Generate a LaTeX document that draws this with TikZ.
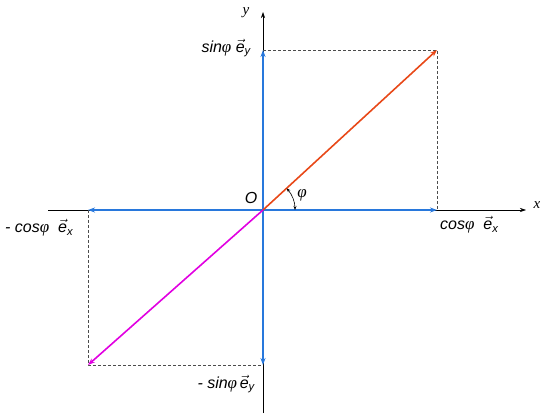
\documentclass[tikz,border=0pt]{standalone}
\usepackage{amsmath}
\usepackage{fontspec}
\setmainfont{Liberation Sans}
\newfontfamily\serifit{Liberation Serif}
\usetikzlibrary{arrows.meta}
\definecolor{vblue}{RGB}{40,120,220}
\definecolor{vred}{RGB}{232,72,24}
\definecolor{vmag}{RGB}{225,0,225}
\newcommand{\ph}{{\serifit\itshape\fontsize{17}{17}\selectfont φ}}
\newcommand{\evec}[1]{$\vec{\text{\itshape e}}_{\text{\itshape #1}}$}
\tikzset{
  axis/.style={black, line width=0.6pt, -{Stealth[length=6pt,width=4pt]}},
  vec/.style={line width=1.6pt, -{Stealth[length=7pt,width=5pt]}},
  proj/.style={black!70, line width=0.5pt, densely dashed},
  lab/.style={font=\fontsize{16}{18}\selectfont\itshape, inner sep=1pt},
  axlab/.style={font=\fontsize{15}{17}\selectfont\serifit\itshape, inner sep=1pt}
}
\begin{document}
\begin{tikzpicture}[x=1pt,y=-1pt]
\useasboundingbox (0,0) rectangle (541,414);
\coordinate (O) at (263,210);
\coordinate (xl) at (48,210);
\coordinate (xr) at (526,210);
\coordinate (yb) at (263,413);
\coordinate (yt) at (263,12);
\coordinate (ex) at (437,210);
\coordinate (mex) at (88,210);
\coordinate (ey) at (263,50);
\coordinate (mey) at (263,365);
\coordinate (P) at (437,50);
\coordinate (Q) at (88,365);
% axes
\draw[axis] (xl) -- (xr);
\draw[axis] (yb) -- (yt);
% dashed projections
\draw[proj] (ey) -- (P) -- (ex);
\draw[proj] (mex) -- (Q) -- (mey);
% vectors
\draw[vec, vblue] (O) -- (ex);
\draw[vec, vblue] (O) -- (mex);
\draw[vec, vblue] (O) -- (ey);
\draw[vec, vblue] (O) -- (mey);
\draw[vec, vred] (O) -- (P);
\draw[vec, vmag] (O) -- (Q);
% angle
\draw[black, line width=0.6pt, {Stealth[length=4pt,width=3pt]}-{Stealth[length=4pt,width=3pt]}] ([shift={(0:32)}]O) arc[start angle=0, end angle=-42.6, radius=32];
\node[inner sep=1pt] (phi) at (302,195) {\ph};
% labels
\node[axlab] (xlab) at (537,205) {x};
\node[axlab] (ylab) at (246,13) {y};
\node[lab] (Olab) at (251,198) {O};
\node[lab, anchor=east] (eylab) at (252,48) {sin\ph\ \evec{y}};
\node[lab, anchor=west] (exlab) at (439,225) {cos\ph\ \ \evec{x}};
\node[lab, anchor=west] (mexlab) at (4,228) {- cos\ph\ \ \evec{x}};
\node[lab, anchor=east] (meylab) at (256,384) {- sin\ph\,\evec{y}};
\end{tikzpicture}
\end{document}
